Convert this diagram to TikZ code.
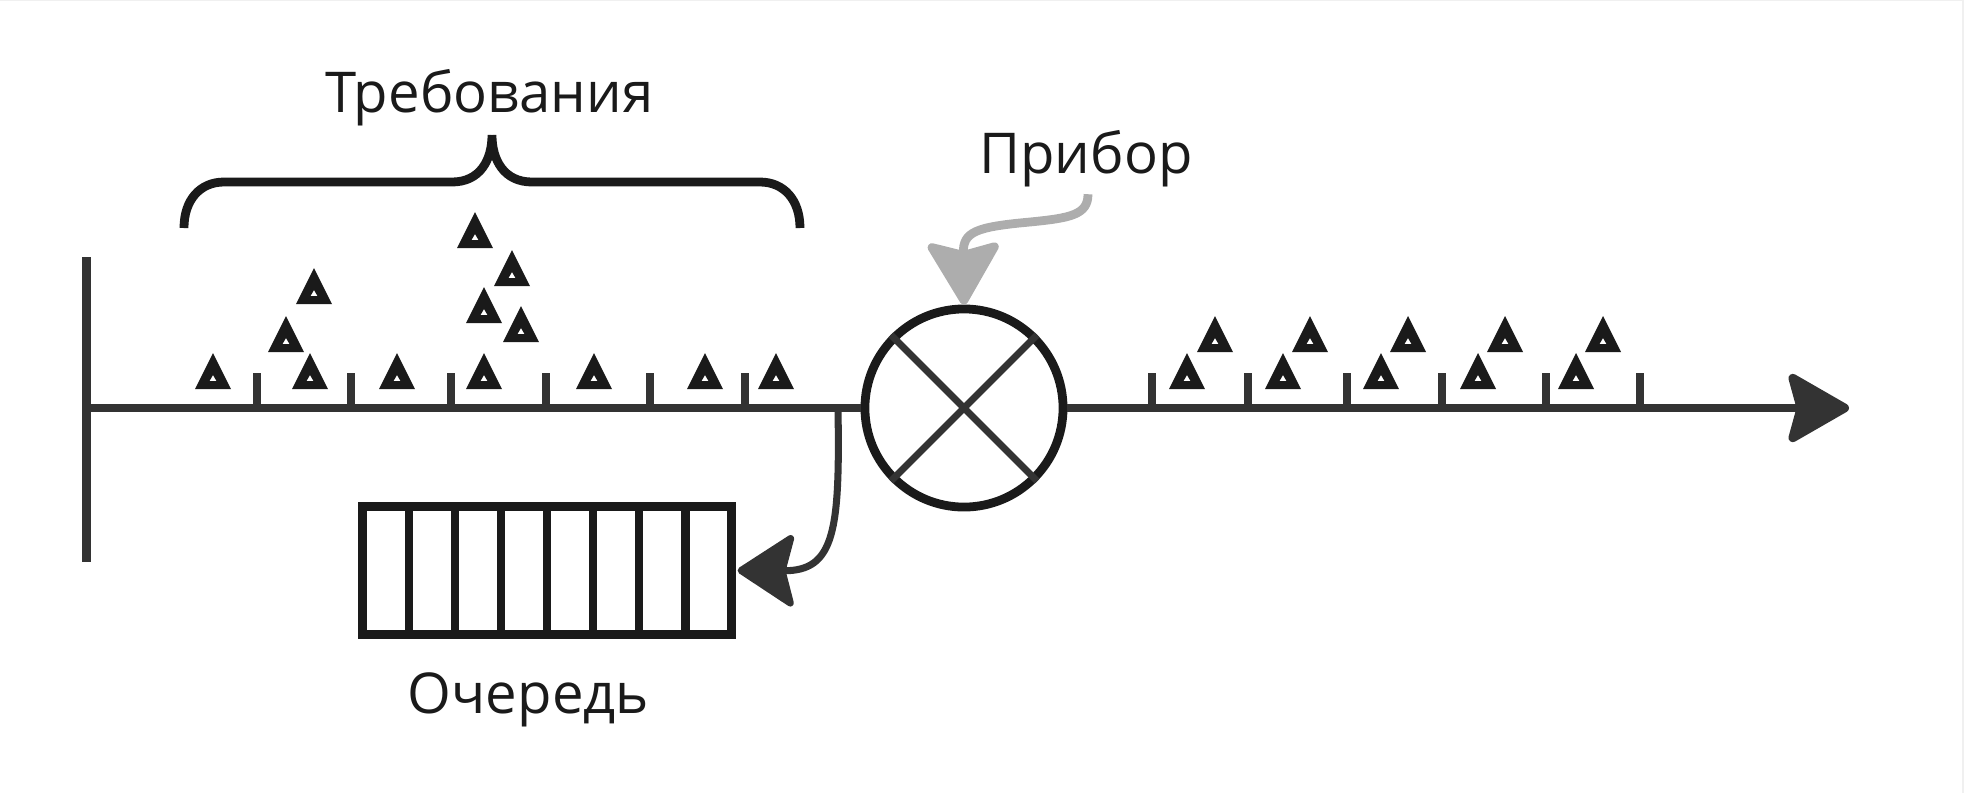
\documentclass[tikz,border=0pt]{standalone}
\usepackage{fontspec}
\setmainfont{Open Sans}
\usetikzlibrary{arrows.meta, calc}
\definecolor{ink}{RGB}{26,26,26}
\definecolor{axisgray}{RGB}{51,51,51}
\definecolor{pointer}{RGB}{173,173,173}

\begin{document}
\begin{tikzpicture}[x=0.01cm, y=-0.01cm,
    lbl/.style={font=\fontsize{16pt}{19pt}\selectfont, text=ink, inner sep=0pt, anchor=base},
    axisline/.style={axisgray, line width=2.5pt},
    tick/.style={axisgray, line width=2pt},
    demand/.style={ink, even odd rule},
    server/.style={circle, draw=ink, line width=2.5pt, minimum size=1.98cm, inner sep=0pt},
    queue/.style={rectangle, draw=ink, line width=2.5pt, minimum width=3.69cm, minimum height=1.28cm, inner sep=0pt, outer sep=0pt},
    bigtip/.style={-{Stealth[length=6.7mm, width=7.6mm, inset=1mm, round]}}]
    \useasboundingbox (0,0) rectangle (1968,793);
    \draw[gray!12, line width=0.4pt] (0,0.5) -- (1963,0.5) -- (1963,793);

    % time axis with the service device on it
    \coordinate (origin) at (86.5,408);
    \coordinate (axisend) at (1849,408);
    \coordinate (branch) at (838,408);
    \node[server] (server) at (964,408) {};
    \draw[axisgray, line width=2pt] (server.135) -- (server.-45);
    \draw[axisgray, line width=2pt] (server.45) -- (server.225);
    \draw[axisline] (86.5,257) -- (86.5,562);
    \draw[axisline] (origin) -- (server.west);
    \draw[axisline, bigtip] (server.east) -- (axisend);

    % ticks
    \foreach \x in {257,351,451,546,650,745,1152,1248,1347,1442,1546,1640}
        \draw[tick] (\x,373) -- (\x,408);

    % demands (triangles), \y is the apex
    \foreach \x/\y in {213/353, 310/353, 397/353, 484/353, 594/353, 705/353, 776/353,
                       286/316, 314/268, 475/212, 512/250, 484/287, 521/306,
                       1187/353, 1283/353, 1381/353, 1478/353, 1576/353,
                       1215/316, 1310/316, 1408/316, 1505/316, 1603/316}
        \fill[demand] (\x,\y) -- (\x+18,\y+36) -- (\x-18,\y+36) -- cycle
                      (\x,\y+22) -- (\x+3.5,\y+28) -- (\x-3.5,\y+28) -- cycle;

    % brace over the incoming demands
    \node[lbl] (reqlabel) at (489.5,112) {Требования};
    \coordinate (bracetip) at (492,135);
    \draw[ink, line width=2.5pt]
        (bracetip) .. controls (492,160) and (480,182) .. (452,182) -- (224,182)
                   .. controls (200,182) and (184,200) .. (184,228)
        (bracetip) .. controls (492,160) and (504,182) .. (532,182) -- (760,182)
                   .. controls (784,182) and (800,200) .. (800,228);

    % device label
    \node[lbl] (srvlabel) at (1086,173) {Прибор};
    \draw[pointer, line width=2.5pt, -{Stealth[length=6.8mm, width=7.9mm, inset=1mm, round]}]
        ($(srvlabel.south)+(2,7)$) .. controls (1088,215) and (1070,218) .. (1030,222)
        .. controls (975,227) and (963,232) .. (server.north);

    % queue
    \node[queue] (queue) at (547,570.5) {};
    \foreach \i in {1,...,7}
        \draw[ink, line width=2.3pt] ($(queue.north west)!\i/8!(queue.north east)$)
            -- ($(queue.south west)!\i/8!(queue.south east)$);
    \node[lbl] (qlabel) at (528.5,713) {Очередь};
    \draw[axisgray, line width=2pt, -{Stealth[length=6.1mm, width=7.9mm, inset=1mm, round]}]
        (branch) .. controls (840,530) and (835,571) .. ($(queue.east)+(6,0)$);
\end{tikzpicture}
\end{document}
